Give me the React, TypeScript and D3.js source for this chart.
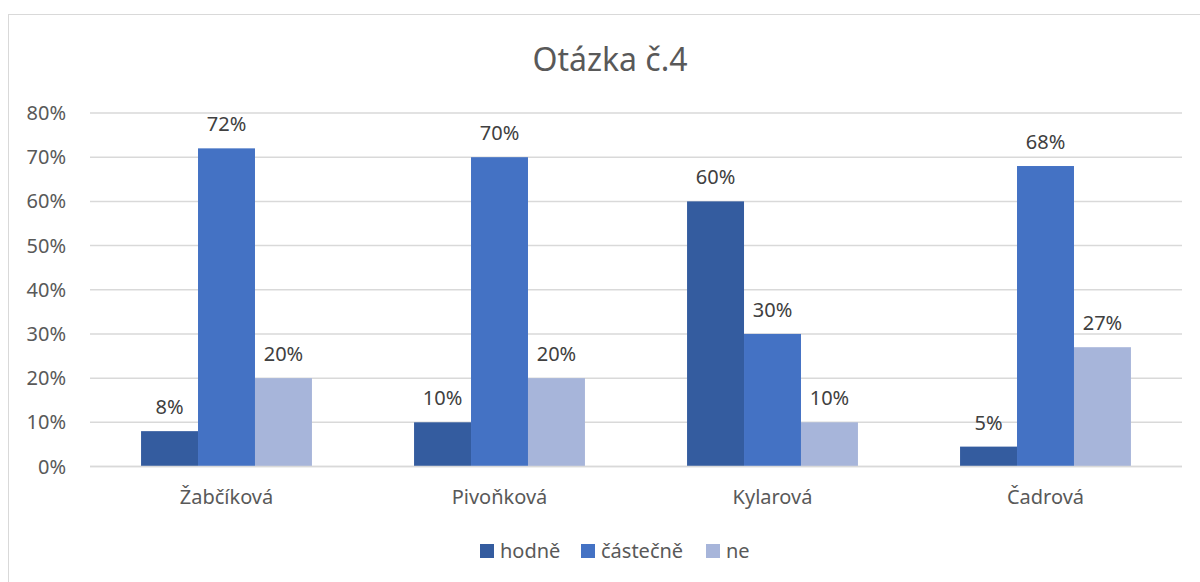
import React from "react";
import * as d3 from "d3";

const categories = ["Žabčíková", "Pivoňková", "Kylarová", "Čadrová"];
const seriesNames = ["hodně", "částečně", "ne"];
const hodne = [8, 10, 60, 4.5];
const castecne = [72, 70, 30, 68];
const ne = [20, 20, 10, 27];
const labelsHodne = ["8%", "10%", "60%", "5%"];
const labelsCastecne = ["72%", "70%", "30%", "68%"];
const labelsNe = ["20%", "20%", "10%", "27%"];
const yTicks = [0, 10, 20, 30, 40, 50, 60, 70, 80];
const colors = ["#345C9F", "#4472C4", "#A7B5DA"];

const W = 1200;
const H = 582;
const FONT = "'Noto Sans', 'Open Sans', sans-serif";

export default function App() {
  const left = 90, right = 1182, top = 113, bottom = 466.5;
  const x = d3.scaleBand<string>().domain(categories).range([left, right]).paddingInner(0.374).paddingOuter(0.187);
  const y = d3.scaleLinear().domain([0, 80]).range([bottom, top]);
  const inner = d3.scaleBand<string>().domain(seriesNames).range([0, x.bandwidth()]);
  const series = [
    { name: seriesNames[0], values: hodne, labels: labelsHodne, color: colors[0] },
    { name: seriesNames[1], values: castecne, labels: labelsCastecne, color: colors[1] },
    { name: seriesNames[2], values: ne, labels: labelsNe, color: colors[2] },
  ];
  const legendItems = [
    { name: seriesNames[0], x: 480, tx: 500 },
    { name: seriesNames[1], x: 581, tx: 601 },
    { name: seriesNames[2], x: 706, tx: 726 },
  ];
  return (
    <svg width={W} height={H} style={{ position: "absolute", left: 0, top: 0, background: "#fff" }} fontFamily={FONT}>
      <rect x={8.5} y={14.5} width={1300} height={700} fill="#fff" stroke="#d9d9d9" strokeWidth={1} />
      <text x={610} y={71} textAnchor="middle" fontSize={32} fill="#595959">Otázka č.4</text>
      {yTicks.map((t) => (
        <g key={t}>
          <line x1={left} x2={right} y1={y(t)} y2={y(t)} stroke="#d9d9d9" strokeWidth={1.5} />
          <text x={66} y={y(t)} dy="0.35em" textAnchor="end" fontSize={20} fill="#595959">{t}%</text>
        </g>
      ))}
      {series.map((s) => (
        <g key={s.name}>
          {categories.map((c, i) => {
            const bx = (x(c) as number) + (inner(s.name) as number);
            const bw = inner.bandwidth();
            return (
              <g key={c}>
                <rect x={bx} y={y(s.values[i])} width={bw} height={bottom - y(s.values[i])} fill={s.color} />
                <text x={bx + bw / 2} y={y(s.values[i]) - 17} textAnchor="middle" fontSize={20} fill="#404040">{s.labels[i]}</text>
              </g>
            );
          })}
        </g>
      ))}
      <line x1={left} x2={right} y1={bottom} y2={bottom} stroke="#d9d9d9" strokeWidth={1.5} />
      {categories.map((c) => (
        <text key={c} x={(x(c) as number) + x.bandwidth() / 2} y={504} textAnchor="middle" fontSize={20} fill="#595959">{c}</text>
      ))}
      {legendItems.map((l, i) => (
        <g key={l.name}>
          <rect x={l.x} y={544} width={14} height={14} fill={colors[i]} />
          <text x={l.tx} y={558} fontSize={20} fill="#595959">{l.name}</text>
        </g>
      ))}
    </svg>
  );
}
